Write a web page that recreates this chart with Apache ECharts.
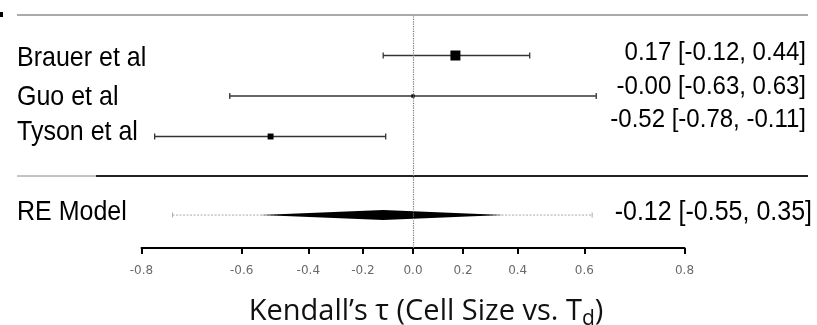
<!DOCTYPE html>
<html><head><meta charset="utf-8">
<script src="https://cdn.jsdelivr.net/npm/echarts@6/dist/echarts.min.js"></script>
<style>html,body{margin:0;padding:0;background:#fff}#c{width:817px;height:325px}</style>
</head><body><div id="c"></div>
<script>
// ---- data ----
const studyLabels = ['Brauer et al', 'Guo et al', 'Tyson et al'];
const studyEst  = [0.17, -0.00, -0.52];
const studyLow  = [-0.12, -0.63, -0.78];
const studyHigh = [0.44, 0.63, -0.11];
const studyText = ['0.17 [-0.12, 0.44]', '-0.00 [-0.63, 0.63]', '-0.52 [-0.78, -0.11]'];
const reLabel = 'RE Model';
const reEst = [-0.12];
const reLow = [-0.55];
const reHigh = [0.35];
const rePredLow = [-0.75];
const rePredHigh = [0.62];
const reText = '-0.12 [-0.55, 0.35]';
const tickLabels = [-0.8, -0.6, -0.4, -0.2, 0.0, 0.2, 0.4, 0.6, 0.8];
const axisTitleMain = 'Kendall’s τ (Cell Size vs. T';
const axisTitleSub = 'd';

// ---- helpers ----
const z = v => Math.atanh(v);
const studyRows = [3, 2, 1];
const reRow = -0.94;

// marker size from precision (1/SE on Fisher-z scale), metafor-like rescale
const invSE = studyLow.map((lo, i) => 2 * 1.96 / (z(studyHigh[i]) - z(lo)));
const mn = Math.min(...invSE), mx = Math.max(...invSE);
const psize = invSE.map(v => 0.5 + (v - mn) / (mx - mn));

const studyData = studyEst.map((e, i) => [z(e), z(studyLow[i]), z(studyHigh[i]), studyRows[i], psize[i] / 1.5 * 10]);
const reData = [[z(reEst[0]), z(reLow[0]), z(reHigh[0]), reRow, z(rePredLow[0]), z(rePredHigh[0])]];

const chart = echarts.init(document.getElementById('c'));
const ciColor = '#333';
const sansFont = '"Liberation Sans", Arial, sans-serif';

const graphics = [
  { type: 'rect', shape: { x: 0, y: 12, width: 3, height: 5 }, style: { fill: '#000' } },
  { type: 'line', shape: { x1: 17, y1: 15, x2: 808, y2: 15 }, style: { stroke: '#aaa', lineWidth: 2 } },
  { type: 'line', shape: { x1: 17, y1: 176, x2: 96, y2: 176 }, style: { stroke: '#888', lineWidth: 1 } },
  { type: 'line', shape: { x1: 96, y1: 176, x2: 808, y2: 176 }, style: { stroke: '#222', lineWidth: 2 } }
];
const leftY = [58, 97, 132];
const rightY = [53, 87, 120];
const sY = 1.09;
function txt(x, y, t, size, align) {
  return { type: 'text', x: x, y: y, scaleY: sY,
    style: { text: t, font: size + 'px ' + sansFont, fill: '#000', align: align, textAlign: align, verticalAlign: 'middle', textVerticalAlign: 'middle' } };
}
studyLabels.forEach((t, i) => {
  graphics.push(txt(17, leftY[i], t, 25, 'left'));
  graphics.push(txt(806, rightY[i], studyText[i], 24, 'right'));
});
graphics.push(txt(17, 212, reLabel, 25, 'left'));
graphics.push(txt(812, 212, reText, 25, 'right'));
graphics.push({
  type: 'text', x: 426, y: 312,
  style: {
    text: '{a|' + axisTitleMain + '}{s|' + axisTitleSub + '}{a|)}',
    align: 'center', textAlign: 'center', verticalAlign: 'middle', textVerticalAlign: 'middle',
    rich: {
      a: { fontFamily: '"Open Sans", sans-serif', fontSize: 29, lineHeight: 36, fill: '#111', color: '#111' },
      s: { fontFamily: '"Open Sans", sans-serif', fontSize: 21, lineHeight: 16, verticalAlign: 'bottom', fill: '#111', color: '#111' }
    }
  }
});

chart.setOption({
  animation: false,
  grid: { left: 141.5, right: 132.5, top: 15, bottom: 77 },
  xAxis: {
    type: 'value', min: z(-0.8), max: z(0.8),
    axisLine: { show: true, onZero: false, lineStyle: { color: '#000', width: 2 } },
    axisTick: { show: true, length: 6, lineStyle: { color: '#000', width: 2 }, customValues: tickLabels.map(z) },
    axisLabel: {
      customValues: tickLabels.map(z), margin: 17, fontSize: 12, color: '#6a6a6a', fontFamily: '"DejaVu Sans", sans-serif',
      formatter: v => Math.tanh(v).toFixed(1).replace('-0.0', '0.0')
    },
    splitLine: { show: false }
  },
  yAxis: { type: 'value', min: 4 - 233 / 40.5, max: 4, show: false },
  graphic: graphics,
  series: [
    {
      type: 'custom', data: studyData, silent: true,
      renderItem: (params, api) => {
        const y = api.coord([0, api.value(3)])[1];
        const xl = api.coord([api.value(1), 0])[0];
        const xh = api.coord([api.value(2), 0])[0];
        const xe = api.coord([api.value(0), 0])[0];
        const s = api.value(4);
        const st = { stroke: ciColor, lineWidth: 1.3 };
        return { type: 'group', children: [
          { type: 'line', shape: { x1: xl, y1: y, x2: xh, y2: y }, style: st },
          { type: 'line', shape: { x1: xl, y1: y - 3, x2: xl, y2: y + 3 }, style: st },
          { type: 'line', shape: { x1: xh, y1: y - 3, x2: xh, y2: y + 3 }, style: st },
          { type: 'rect', shape: { x: xe - s / 2, y: y - s / 2, width: s, height: s }, style: { fill: '#000' } }
        ] };
      },
      markLine: {
        silent: true, symbol: 'none', label: { show: false },
        lineStyle: { type: 'dotted', color: '#777', width: 1.2 },
        data: [{ xAxis: 0 }]
      }
    },
    {
      type: 'custom', data: reData, silent: true,
      renderItem: (params, api) => {
        const y = api.coord([0, api.value(3)])[1];
        const xe = api.coord([api.value(0), 0])[0];
        const xl = api.coord([api.value(1), 0])[0];
        const xh = api.coord([api.value(2), 0])[0];
        const pl = api.coord([api.value(4), 0])[0];
        const ph = api.coord([api.value(5), 0])[0];
        const h = 5;
        const ps = { stroke: '#aaa', lineWidth: 1, lineDash: [2, 1.5] };
        return { type: 'group', children: [
          { type: 'line', shape: { x1: pl, y1: y, x2: ph, y2: y }, style: ps },
          { type: 'line', shape: { x1: pl, y1: y - 2.5, x2: pl, y2: y + 2.5 }, style: { stroke: '#aaa', lineWidth: 1 } },
          { type: 'line', shape: { x1: ph, y1: y - 2.5, x2: ph, y2: y + 2.5 }, style: { stroke: '#aaa', lineWidth: 1 } },
          { type: 'polygon', shape: { points: [[xl, y], [xe, y - h], [xh, y], [xe, y + h]] }, style: { fill: '#000' } }
        ] };
      }
    }
  ]
});
</script></body></html>
